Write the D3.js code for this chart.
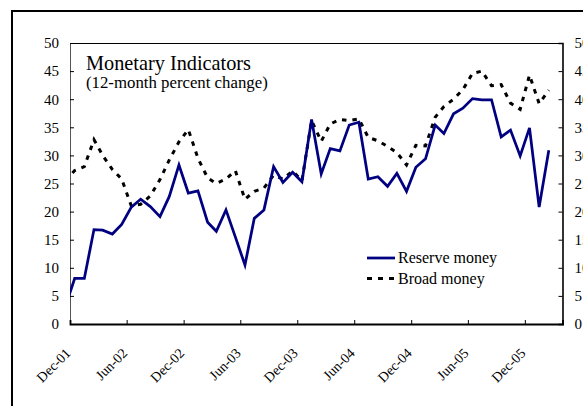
<!DOCTYPE html>
<html>
<head>
<meta charset="utf-8">
<script src="https://cdn.jsdelivr.net/npm/d3@7"></script>
<style>
  html, body { margin: 0; padding: 0; background: #fff; }
  svg { display: block; }
  text { font-family: "Times New Roman", "Liberation Serif", serif; fill: #000; }
</style>
</head>
<body>
<svg id="chart" width="583" height="406"></svg>
<script>
// ---- data (12-month percent change, monthly) ----
const months = [
  "Nov-01","Dec-01",
  "Jan-02","Feb-02","Mar-02","Apr-02","May-02","Jun-02","Jul-02","Aug-02","Sep-02","Oct-02","Nov-02","Dec-02",
  "Jan-03","Feb-03","Mar-03","Apr-03","May-03","Jun-03","Jul-03","Aug-03","Sep-03","Oct-03","Nov-03","Dec-03",
  "Jan-04","Feb-04","Mar-04","Apr-04","May-04","Jun-04","Jul-04","Aug-04","Sep-04","Oct-04","Nov-04","Dec-04",
  "Jan-05","Feb-05","Mar-05","Apr-05","May-05","Jun-05","Jul-05","Aug-05","Sep-05","Oct-05","Nov-05","Dec-05",
  "Jan-06","Feb-06"
];
const reserveMoney = [
  3.1, 8.1,
  8.1, 16.8, 16.7, 16.0, 17.7, 20.8, 22.2, 20.9, 19.1, 22.7, 28.3, 23.3,
  23.7, 18.1, 16.5, 20.3, 15.5, 10.5, 18.8, 20.3, 28.0, 25.2, 27.0, 25.3,
  36.4, 26.7, 31.2, 30.8, 35.4, 35.9, 25.8, 26.2, 24.5, 26.8, 23.6, 27.9,
  29.4, 35.4, 33.9, 37.4, 38.4, 40.1, 39.9, 39.9, 33.3, 34.5, 29.9, 34.9,
  20.8, 30.9
];
const broadMoney = [
  25.5, 27.3,
  28.0, 32.8, 30.0, 27.5, 25.8, 21.0, 21.3, 22.8, 25.7, 29.2, 32.4, 34.6,
  29.5, 26.0, 25.0, 25.8, 27.3, 22.2, 23.6, 24.2, 26.5, 25.8, 27.2, 25.5,
  36.2, 32.5, 35.6, 36.4, 36.2, 36.5, 33.2, 32.6, 31.6, 30.5, 28.3, 31.8,
  31.7, 36.8, 38.7, 40.0, 41.7, 44.6, 45.0, 42.4, 42.6, 39.3, 38.2, 44.3,
  39.2, 41.6
];
const xTickLabels = ["Dec-01","Jun-02","Dec-02","Jun-03","Dec-03","Jun-04","Dec-04","Jun-05","Dec-05"];
const xAxisRange = ["Dec-01","Apr-06"];
const yTicks = [0, 5, 10, 15, 20, 25, 30, 35, 40, 45, 50];
const seriesNames = ["Reserve money", "Broad money"];
const titleText = "Monetary Indicators";
const subtitleText = "(12-month percent change)";

// ---- layout ----
const svg = d3.select("#chart");
const plot = { left: 70, right: 562.5, top: 43, bottom: 324 };
const parseM = d3.timeParse("%b-%y");
const fmtM = d3.timeFormat("%b-%y");
const midMonth = s => d3.timeDay.offset(parseM(s), 15);

const x = d3.scaleTime()
  .domain(xAxisRange.map(parseM))
  .range([plot.left, plot.right]);
const y = d3.scaleLinear()
  .domain([d3.min(yTicks), d3.max(yTicks)])
  .range([plot.bottom, plot.top]);

// outer frame (extends beyond picture on right/bottom)
svg.append("rect")
  .attr("x", 12).attr("y", 11)
  .attr("width", 600).attr("height", 420)
  .attr("fill", "none").attr("stroke", "#000").attr("stroke-width", 2);

// clip
svg.append("defs").append("clipPath").attr("id", "plotClip")
  .append("rect")
  .attr("x", plot.left).attr("y", plot.top - 5)
  .attr("width", plot.right - plot.left).attr("height", plot.bottom - plot.top + 5);

// plot border (top)
svg.append("line")
  .attr("x1", plot.left).attr("x2", plot.right)
  .attr("y1", plot.top + 0.5).attr("y2", plot.top + 0.5)
  .attr("stroke", "#000").attr("stroke-width", 1);

// left axis
const yAxisL = d3.axisLeft(y).tickValues(yTicks).tickSize(-4).tickPadding(11).tickFormat(d3.format("d"));
const gL = svg.append("g").attr("transform", `translate(${plot.left},0)`).call(yAxisL);
// right axis
const yAxisR = d3.axisRight(y).tickValues(yTicks).tickSize(-4).tickPadding(12).tickFormat(d3.format("d"));
const gR = svg.append("g").attr("transform", `translate(${plot.right},0)`).call(yAxisR);
// bottom axis
const xAxis = d3.axisBottom(x)
  .tickValues(xTickLabels.map(parseM))
  .tickSize(-4).tickFormat(fmtM);
const gB = svg.append("g").attr("transform", `translate(0,${plot.bottom})`).call(xAxis);

[gL, gR, gB].forEach(g => {
  g.selectAll("text").style("font-family", '"Times New Roman", "Liberation Serif", serif')
    .style("font-size", "15px").attr("fill", "#000");
  g.selectAll("line").attr("stroke", "#000");
});
gL.select(".domain").attr("stroke", "#555").attr("stroke-width", 1);
gR.select(".domain").attr("stroke", "#000").attr("stroke-width", 1.6);
gB.select(".domain").attr("stroke", "#000").attr("stroke-width", 1.8);

gB.selectAll(".tick text")
  .style("font-size", "14px")
  .attr("text-anchor", "end")
  .attr("dy", null)
  .attr("y", 0)
  .attr("transform", "translate(1,30) rotate(-45)");

// lines
const lineGen = d3.line()
  .x(d => x(d.date))
  .y(d => y(d.value));
const mk = vals => months.map((m, i) => ({ date: midMonth(m), value: vals[i] }));

const linesG = svg.append("g").attr("clip-path", "url(#plotClip)");
linesG.append("path")
  .datum(mk(broadMoney))
  .attr("d", lineGen)
  .attr("fill", "none")
  .attr("stroke", "#000")
  .attr("stroke-width", 3)
  .attr("stroke-dasharray", "4.5,6");
linesG.append("path")
  .datum(mk(reserveMoney))
  .attr("d", lineGen)
  .attr("fill", "none")
  .attr("stroke", "#000080")
  .attr("stroke-width", 2.75)
  .attr("stroke-linejoin", "miter");

// titles
svg.append("text").attr("x", 86).attr("y", 69.5)
  .style("font-size", "20.3px").text(titleText);
svg.append("text").attr("x", 86).attr("y", 87.5)
  .style("font-size", "16.8px").text(subtitleText);

// legend
const legend = svg.append("g").attr("transform", "translate(367,0)");
const legendRows = [
  { name: seriesNames[0], color: "#000080", dash: null, w: 2.75, y: 258 },
  { name: seriesNames[1], color: "#000", dash: "5,6", w: 3, y: 278.5 }
];
legendRows.forEach(r => {
  legend.append("line")
    .attr("x1", 0).attr("x2", 28).attr("y1", r.y).attr("y2", r.y)
    .attr("stroke", r.color).attr("stroke-width", r.w)
    .attr("stroke-dasharray", r.dash);
  legend.append("text").attr("x", 31).attr("y", r.y + 5)
    .style("font-size", "16px").text(r.name);
});
</script>
</body>
</html>
